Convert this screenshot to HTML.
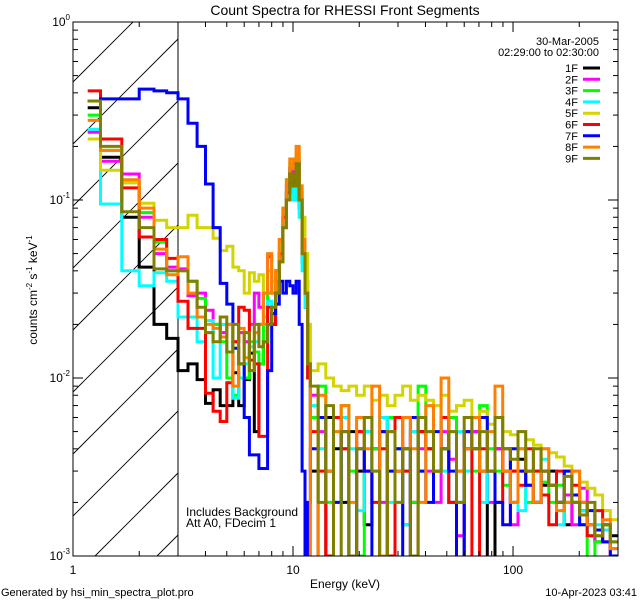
<!DOCTYPE html>
<html><head><meta charset="utf-8">
<style>
html,body{margin:0;padding:0;background:#fff;width:640px;height:600px;overflow:hidden;}
svg{display:block;font-family:"Liberation Sans","DejaVu Sans",sans-serif;}
</style></head>
<body>
<svg id="chart" width="640" height="600" viewBox="0 0 640 600" xmlns="http://www.w3.org/2000/svg">
<defs>
<clipPath id="plotclip"><rect x="73" y="22" width="545" height="534"/></clipPath>
</defs>
<rect width="640" height="600" fill="#fff"/>
<text x="345" y="15" font-size="14" text-anchor="middle">Count Spectra for RHESSI Front Segments</text>
<g id="hatch"></g>
<line x1="178" y1="22" x2="178" y2="556" stroke="#000" stroke-width="1"/>
<g id="series" clip-path="url(#plotclip)"></g>
<rect x="73" y="22" width="545" height="534" fill="none" stroke="#000" stroke-width="1"/>
<g id="ticks"></g>
<text transform="translate(37,290) rotate(-90)" font-size="12" text-anchor="middle">counts cm<tspan font-size="8" dy="-5">-2</tspan><tspan dy="5"> s</tspan><tspan font-size="8" dy="-5">-1</tspan><tspan dy="5"> keV</tspan><tspan font-size="8" dy="-5">-1</tspan></text>
<text x="345" y="588" font-size="12" text-anchor="middle">Energy (keV)</text>
<text x="186" y="516" font-size="12">Includes Background</text>
<text x="186" y="527" font-size="12">Att A0, FDecim 1</text>
<text x="1" y="596" font-size="11">Generated by hsi_min_spectra_plot.pro</text>
<text x="637" y="596" font-size="11" text-anchor="end">10-Apr-2023 03:41</text>
<text x="599" y="45" font-size="11" text-anchor="end">30-Mar-2005</text>
<text x="599" y="56" font-size="11" text-anchor="end">02:29:00 to 02:30:00</text>
<g id="legend"></g>
</svg>
<script>
const SVGNS="http://www.w3.org/2000/svg";
// ---- data ----
const seriesNames=["1F","2F","3F","4F","5F","6F","7F","8F","9F"];
const seriesColors=["#000000","#ff00ff","#00ff00","#00ffff","#d4d400","#ff0000","#0000ff","#ff8000","#808000"];
// low-energy values (counts cm^-2 s^-1 keV^-1), 1/3 keV bins from 1.167 to 12 keV
const low1F=[0.33,0.174,0.08,0.042,0.02,0.0167,0.011,0.012,0.0098,0.0072,0.0086,0.007,0.007,0.0107,0.007,0.0098,0.0138,0.005,0.012,0.016,0.02,0.02,0.03,0.045,0.07,0.11,0.15,0.12,0.16,0.09,0.045,0.025,0.01];
const low2F=[0.24,0.165,0.14,0.08,0.05,0.042,0.041,0.029,0.03,0.024,0.02,0.018,0.02,0.016,0.018,0.016,0.02,0.03,0.025,0.03,0.048,0.03,0.04,0.05,0.08,0.12,0.15,0.14,0.17,0.11,0.06,0.035,0.012];
const low3F=[0.30,0.19,0.125,0.085,0.058,0.04,0.04,0.035,0.028,0.018,0.02,0.016,0.01,0.008,0.012,0.01,0.016,0.014,0.012,0.02,0.03,0.03,0.04,0.06,0.09,0.13,0.16,0.15,0.18,0.1,0.05,0.03,0.012];
const low4F=[0.25,0.095,0.04,0.033,0.039,0.035,0.022,0.022,0.016,0.021,0.01,0.02,0.02,0.0077,0.01,0.012,0.015,0.016,0.02,0.022,0.027,0.025,0.035,0.05,0.08,0.11,0.12,0.1,0.13,0.08,0.04,0.025,0.01];
const low5F=[0.22,0.147,0.125,0.096,0.077,0.07,0.07,0.082,0.07,0.07,0.061,0.052,0.055,0.042,0.04,0.03,0.039,0.035,0.038,0.03,0.04,0.035,0.04,0.045,0.07,0.1,0.13,0.12,0.15,0.12,0.08,0.05,0.02];
const low6F=[0.41,0.22,0.117,0.062,0.06,0.047,0.027,0.019,0.019,0.0082,0.0065,0.0057,0.0094,0.016,0.025,0.024,0.0126,0.012,0.0047,0.0047,0.025,0.02,0.03,0.05,0.08,0.11,0.14,0.12,0.16,0.1,0.05,0.03,0.01];
const low7F=[0.36,0.37,0.37,0.42,0.41,0.40,0.37,0.27,0.2,0.123,0.07,0.034,0.026,0.0147,0.012,0.006,0.0037,0.0037,0.0031,0.0031,0.011,0.023,0.026,0.035,0.03,0.035,0.033,0.03,0.035,0.02,0.003,0.0008,0.002];
const low8F=[0.28,0.19,0.13,0.09,0.053,0.038,0.048,0.03,0.022,0.02,0.019,0.017,0.02,0.009,0.019,0.013,0.011,0.018,0.02,0.03,0.05,0.03,0.04,0.06,0.09,0.13,0.17,0.15,0.2,0.12,0.06,0.03,0.012];
const low9F=[0.36,0.2,0.086,0.07,0.041,0.04,0.04,0.035,0.025,0.018,0.016,0.022,0.014,0.02,0.012,0.018,0.011,0.02,0.015,0.016,0.02,0.025,0.03,0.045,0.07,0.1,0.14,0.12,0.16,0.1,0.05,0.03,0.012];
// high-energy values in units of 1e-3, 40 log-spaced bins from 12 to 300 keV
const high1F=[3,0,6,4,2,5,3,1.5,4,5,0,3,4,2,5,4,3,6,2,0,4,5,3,0.8,4,3,2,3.5,3,2,2.5,3,2,1.5,2,1.8,1.5,1.2,1.5,1.3];
const high2F=[8,5,3,6,4,1,5,3,4,2,6,3,1.5,5,4,3,2,5,3.5,1.3,4,5,3,2,4,3,1.5,3,2.5,2,3,2.5,2,2.2,1.5,2.4,1.5,1.2,1.4,1.1];
const high3F=[6,9,2,5,7,3,1,5,4,0,6,4,3,2,9,5,3,4,6,2,5,3,7,4,3,2.5,3,4,2,3,2.6,2,2.5,3,2,1.5,0,1.2,1.5,1.2];
const high4F=[7,4,3,2,6,4,1.8,5,3,6,2,4,1.5,5,3,4,7,3,2,5,3,4,2,5,6,4,2,1.8,3,2,3.5,2.5,1.5,2,2.2,1.8,1.3,1.5,1.4,1.1];
const high5F=[11,12,10,9,8.5,9,8,9,7.5,8,7,8,9,7.5,8,7.5,7,8,6.5,7,7.5,6,6.5,5.5,6,5,4.8,5,4.5,4.2,4,3.8,3.6,3.2,3,2.6,2.4,2.2,1.8,1.6];
const high6F=[5,3,1,6,4,0,5,3,2,4,1,6,3,0,5,4,3,6,2,3,5,0,4,3,2,4,3,2.5,4,3,2.2,1.5,3,2,2.5,2,1.3,1.8,1.2,1];
const high7F=[4,6,3,2,5,1,4,3,0,5,3,4,0,6,3,2,5,4,3,0.8,5,4,6,3,2,1.5,4,3,2.5,2,3,2.5,2,3,2.2,1.5,1.8,1.4,1.2,1];
const high8F=[0,8,3,5,7,2,6,4,9,1,5,3,6,4,2,7,3,10,5,3,4,6,3,5,9,3,2,4,3,2,4,2.5,1.8,2,3,2,1.5,1.3,1.6,1.1];
const high9F=[9,2,7,0,5,1,4,6,3,0,5,2,4,1,6,5,3,4,5,2,6,4,5,3,6,4,3.5,5,3,4,3,2.5,2,2.8,2,1.7,2,1.3,1.5,1.2];
const lowSeries=[low1F,low2F,low3F,low4F,low5F,low6F,low7F,low8F,low9F];
const highSeries=[high1F,high2F,high3F,high4F,high5F,high6F,high7F,high8F,high9F];
const yTickExps=[0,-1,-2,-3];
const xTickLabels=["1","10","100"];
const xTickValues=[1,10,100];

// ---- axes ----
const X0=73,X1=618,Y0=22,Y1=556;
const xMinL=0,xMaxL=Math.log10(300),yMinL=-3,yMaxL=0;
function xs(e){return X0+(Math.log10(e)-xMinL)/(xMaxL-xMinL)*(X1-X0);}
function ys(v){if(!(v>0))return Y1+4;return Y1-(Math.log10(v)-yMinL)/(yMaxL-yMinL)*(Y1-Y0);}

// bin edges
const lowEdges=[7/6];
for(let i=1;i<=33;i++)lowEdges.push(4/3+(i-1)/3);
const highEdges=[];
for(let i=0;i<=40;i++)highEdges.push(12*Math.pow(300/12,i/40));

// hatch (lines y = b - (x - X0), trimmed to the box X0..178, Y0..Y1)
const hatch=document.getElementById('hatch');
const HX1=178;
for(let k=-12;k<12;k++){
  const b=Y1-40+k*62;
  let xa=X0, ya=b;
  if(ya>Y1){xa=X0+(ya-Y1);ya=Y1;}
  let xb=HX1, yb=b-(HX1-X0);
  if(yb<Y0){xb=X0+(b-Y0);yb=Y0;}
  if(xa>=xb||ya<Y0||yb>Y1)continue;
  const l=document.createElementNS(SVGNS,'line');
  l.setAttribute('x1',xa.toFixed(1));l.setAttribute('y1',ya.toFixed(1));
  l.setAttribute('x2',xb.toFixed(1));l.setAttribute('y2',yb.toFixed(1));
  l.setAttribute('stroke','#000');l.setAttribute('stroke-width','0.9');
  hatch.appendChild(l);
}

// series
const sg=document.getElementById('series');
lowSeries.forEach((lo,si)=>{
  const hi=highSeries[si];
  let d='';
  let pts=[];
  lo.forEach((v,i)=>{pts.push([lowEdges[i],lowEdges[i+1],v]);});
  hi.forEach((v,i)=>{pts.push([highEdges[i],highEdges[i+1],v*1e-3]);});
  pts.forEach((p,i)=>{
    const xa=xs(p[0]).toFixed(1),xb=xs(p[1]).toFixed(1),y=ys(p[2]).toFixed(1);
    d+=(i===0?'M':'L')+xa+','+y+'L'+xb+','+y;
  });
  const path=document.createElementNS(SVGNS,'path');
  path.setAttribute('d',d);
  path.setAttribute('fill','none');
  path.setAttribute('stroke',seriesColors[si]);
  path.setAttribute('stroke-width','3');
  path.setAttribute('stroke-linejoin','miter');
  
  
  sg.appendChild(path);
});

// ticks
const tg=document.getElementById('ticks');
function ln(x1,y1,x2,y2){const l=document.createElementNS(SVGNS,'line');l.setAttribute('x1',x1);l.setAttribute('y1',y1);l.setAttribute('x2',x2);l.setAttribute('y2',y2);l.setAttribute('stroke','#000');l.setAttribute('stroke-width','1');tg.appendChild(l);return l;}
for(let dec=0;dec<3;dec++){
  for(let m=1;m<10;m++){
    const e=Math.pow(10,dec)*m; if(e>300)break;
    const x=xs(e), len=(m===1)?10:5;
    ln(x,Y1,x,Y1-len);ln(x,Y0,x,Y0+len);
  }
}
for(let dec=-3;dec<0;dec++){
  for(let m=1;m<10;m++){
    const v=Math.pow(10,dec)*m,y=ys(v),len=(m===1)?10:5;
    ln(X0,y,X0+len,y);ln(X1,y,X1-len,y);
  }
}
yTickExps.forEach(ex=>{
  const t=document.createElementNS(SVGNS,'text');
  t.setAttribute('x',X0-3);t.setAttribute('y',ys(Math.pow(10,ex))+4);
  t.setAttribute('font-size','12');t.setAttribute('text-anchor','end');
  t.innerHTML='10<tspan font-size="8" dy="-6">'+(ex===0?'0':String(ex))+'</tspan>';
  
  
  tg.appendChild(t);
});
xTickValues.forEach((v,i)=>{
  const t=document.createElementNS(SVGNS,'text');
  t.setAttribute('x',xs(v));t.setAttribute('y',Y1+18);
  t.setAttribute('font-size','12');t.setAttribute('text-anchor','middle');
  t.textContent=xTickLabels[i];
  
  
  tg.appendChild(t);
});

// legend
const lg=document.getElementById('legend');
seriesNames.forEach((n,i)=>{
  const y=68+i*11.3;
  const t=document.createElementNS(SVGNS,'text');
  t.setAttribute('x',578);t.setAttribute('y',y+4);t.setAttribute('font-size','11');t.setAttribute('text-anchor','end');
  t.textContent=n;
  
  
  lg.appendChild(t);
  const l=document.createElementNS(SVGNS,'line');
  l.setAttribute('x1',583);l.setAttribute('x2',600);l.setAttribute('y1',y);l.setAttribute('y2',y);
  l.setAttribute('stroke',seriesColors[i]);l.setAttribute('stroke-width','3');
  
  
  lg.appendChild(l);
});
</script>
</body></html>
